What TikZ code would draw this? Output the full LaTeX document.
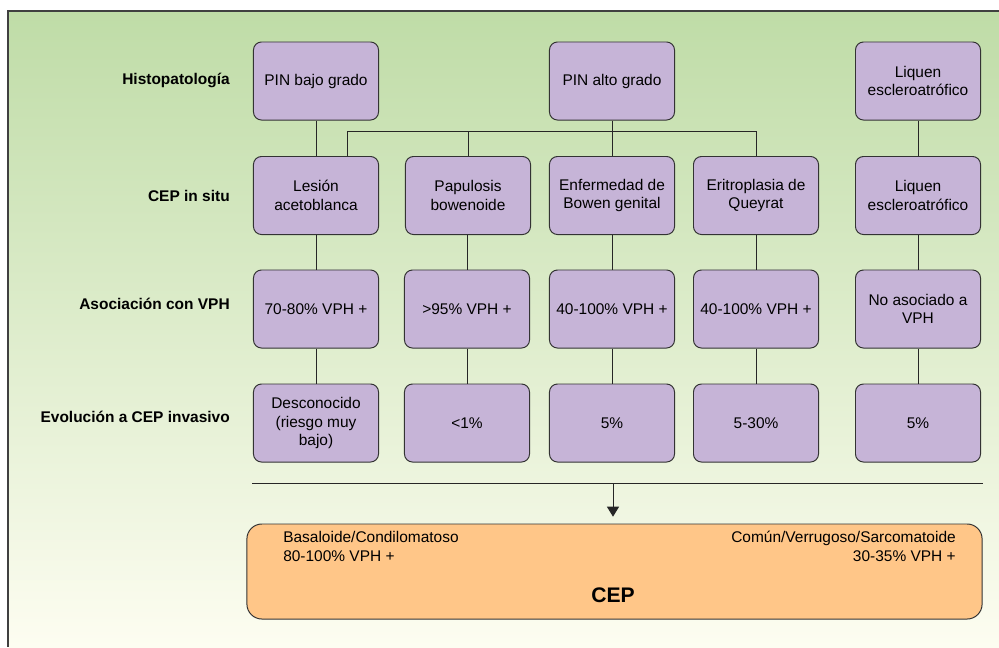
\documentclass[tikz,border=0pt]{standalone}
\usepackage{fontspec}
\setmainfont{Liberation Sans}
\usetikzlibrary{arrows.meta,positioning}
\definecolor{lila}{HTML}{C6B4D7}
\definecolor{naranja}{HTML}{FFC688}
\definecolor{verde}{HTML}{BFDCA7}
\definecolor{crema}{HTML}{FDFDF1}
\begin{document}
\begin{tikzpicture}
	[x=0.025cm, y=-0.025cm, font=\fontsize{11}{13.3}\selectfont,
	 caja/.style={rectangle, rounded corners=0.2cm, draw=black!80, line width=0.7pt, fill=lila, minimum width=3.125cm, minimum height=1.95cm, align=center, inner sep=1pt},
	 fila/.style={anchor=east, inner sep=0pt, font=\fontsize{11}{13.3}\selectfont\bfseries},
	 linea/.style={draw=black!85, line width=0.7pt},]
	\useasboundingbox (0,0) rectangle (999,647);
	\shade[top color=verde, bottom color=crema] (8,11) rectangle (999,647);
	\draw[line width=1pt, black!75] (8,647) -- (8,11) -- (999,11);

	% etiquetas de las filas
	\node[fila] (histo) at (230,80) {Histopatología};
	\node[fila] (insitu) at (230,196) {CEP in situ};
	\node[fila] (asoc) at (230,304) {Asociación con VPH};
	\node[fila] (evol) at (230,417) {Evolución a CEP invasivo};

	% fila 1
	\node[caja] (pinbajo) at (316,81) {PIN bajo grado};
	\node[caja] (pinalto) at (612,81) {PIN alto grado};
	\node[caja] (liquenA) at (918,81) {Liquen\\escleroatrófico};
	% fila 2
	\node[caja] (lesion) at (316,195.5) {Lesión\\acetoblanca};
	\node[caja] (papulosis) at (468,195.5) {Papulosis\\bowenoide};
	\node[caja] (bowen) at (612,195.5) {Enfermedad de\\Bowen genital};
	\node[caja] (queyrat) at (756,195.5) {Eritroplasia de\\Queyrat};
	\node[caja] (liquenB) at (918,195.5) {Liquen\\escleroatrófico};
	% fila 3
	\node[caja] (vphA) at (316,309) {70-80\% VPH +};
	\node[caja] (vphB) at (467,309) {>95\% VPH +};
	\node[caja] (vphC) at (612,309) {40-100\% VPH +};
	\node[caja] (vphD) at (756,309) {40-100\% VPH +};
	\node[caja] (vphE) at (918,309) {No asociado a\\VPH};
	% fila 4
	\node[caja] (evolA) at (316,423) {Desconocido\\(riesgo muy\\bajo)};
	\node[caja] (evolB) at (467,423) {<1\%};
	\node[caja] (evolC) at (612,423) {5\%};
	\node[caja] (evolD) at (756,423) {5-30\%};
	\node[caja] (evolE) at (918,423) {5\%};

	\draw[linea] (pinbajo) -- (lesion);
	\draw[linea] (liquenA) -- (liquenB);
	\coordinate (rama) at (612,131);
	\draw[linea] (pinalto) -- (rama);
	\draw[linea] (rama) -| ([xshift=0.775cm]lesion.north);
	\draw[linea] (rama) -| (queyrat.north);
	\draw[linea] (rama) -- (bowen);
	\draw[linea] (rama -| papulosis.north) -- (papulosis);
	\foreach \a/\b in {lesion/vphA, papulosis/vphB, bowen/vphC, queyrat/vphD, liquenB/vphE,
	                   vphA/evolA, vphB/evolB, vphC/evolC, vphD/evolD, vphE/evolE}
		\draw[linea] (\a.south -| \b.north) -- (\b.north);

	% CEP
	\node[rectangle, rounded corners=0.375cm, draw=black!80, line width=0.7pt, fill=naranja, minimum width=18.375cm, minimum height=2.375cm] (cep) at (614.5,571.5) {};
	\node[anchor=north west, align=left, inner sep=0pt] (basal) at (283,531) {Basaloide/Condilomatoso\\80-100\% VPH +};
	\node[anchor=north east, align=right, inner sep=0pt] (comun) at (956,531) {Común/Verrugoso/Sarcomatoide\\30-35\% VPH +};
	\node[font=\fontsize{15}{18}\selectfont\bfseries] (ceptit) at (613,595) {CEP};

	\coordinate (izq) at (252,483);
	\coordinate (der) at (983,483);
	\coordinate (baja) at (613,483);
	\draw[linea] (izq) -- (der);
	\draw[linea, -{Triangle[width=0.3cm, length=0.25cm]}, shorten >=0.17cm] (baja) -- (baja |- cep.north);
\end{tikzpicture}
\end{document}
